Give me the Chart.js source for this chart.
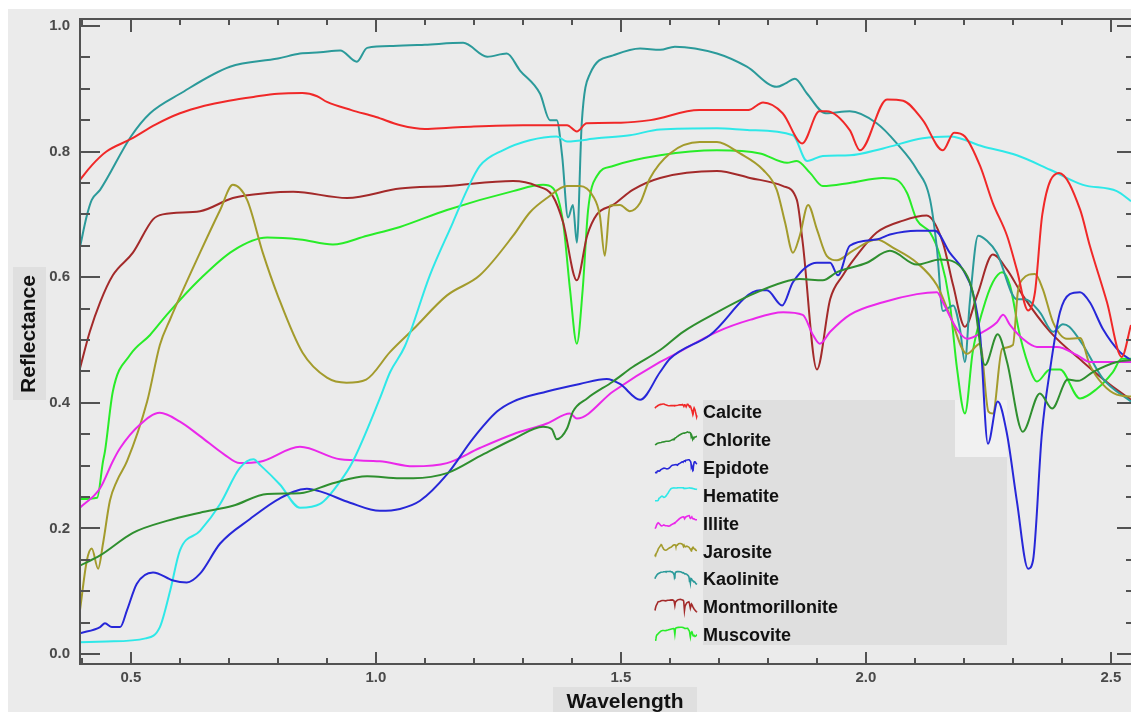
<!DOCTYPE html>
<html>
<head>
<meta charset="utf-8">
<title>Mineral reflectance spectra</title>
<script src="https://cdn.jsdelivr.net/npm/chart.js@4.4.1/dist/chart.umd.min.js"></script>
<style>
  html, body { margin: 0; padding: 0; background: #fff; }
  canvas { display: block; }
</style>
</head>
<body>
<canvas id="spectra" width="1131" height="712"></canvas>
<script>
// [wavelength (um), reflectance]
const calcite = [[0.396,0.755],[0.42,0.778],[0.45,0.80],[0.50,0.82],[0.55,0.843],[0.60,0.861],[0.65,0.873],[0.70,0.881],[0.75,0.887],[0.80,0.892],[0.85,0.893],[0.88,0.888],[0.90,0.879],[0.95,0.866],[1.00,0.855],[1.05,0.842],[1.10,0.836],[1.15,0.838],[1.20,0.840],[1.30,0.842],[1.39,0.842],[1.41,0.832],[1.43,0.845],[1.50,0.846],[1.56,0.850],[1.66,0.866],[1.76,0.866],[1.79,0.878],[1.83,0.861],[1.87,0.813],[1.905,0.864],[1.92,0.864],[1.967,0.834],[1.988,0.802],[2.043,0.883],[2.076,0.881],[2.116,0.85],[2.157,0.802],[2.18,0.83],[2.202,0.824],[2.233,0.777],[2.259,0.718],[2.288,0.666],[2.308,0.612],[2.331,0.547],[2.345,0.576],[2.36,0.70],[2.394,0.766],[2.437,0.708],[2.457,0.650],[2.492,0.560],[2.522,0.473],[2.541,0.524]];
const chlorite = [[0.396,0.141],[0.437,0.157],[0.504,0.193],[0.573,0.212],[0.641,0.225],[0.708,0.236],[0.778,0.255],[0.845,0.256],[0.912,0.272],[0.982,0.283],[1.049,0.28],[1.076,0.28],[1.145,0.288],[1.212,0.315],[1.28,0.342],[1.341,0.362],[1.359,0.358],[1.369,0.342],[1.39,0.359],[1.402,0.386],[1.431,0.407],[1.484,0.434],[1.524,0.457],[1.58,0.484],[1.627,0.513],[1.696,0.544],[1.763,0.571],[1.831,0.592],[1.865,0.597],[1.912,0.595],[1.941,0.608],[2.002,0.623],[2.049,0.642],[2.104,0.62],[2.151,0.628],[2.202,0.608],[2.218,0.576],[2.243,0.46],[2.269,0.509],[2.288,0.465],[2.32,0.354],[2.355,0.415],[2.38,0.391],[2.412,0.437],[2.433,0.435],[2.463,0.449],[2.512,0.465],[2.541,0.468]];
const epidote = [[0.396,0.033],[0.437,0.043],[0.447,0.049],[0.461,0.043],[0.478,0.043],[0.492,0.07],[0.512,0.112],[0.545,0.130],[0.586,0.117],[0.614,0.114],[0.641,0.128],[0.682,0.176],[0.743,0.215],[0.804,0.248],[0.859,0.263],[0.886,0.259],[0.947,0.241],[1.008,0.228],[1.049,0.231],[1.09,0.244],[1.145,0.286],[1.198,0.343],[1.247,0.386],[1.28,0.402],[1.349,0.418],[1.416,0.43],[1.471,0.438],[1.498,0.43],[1.539,0.405],[1.58,0.449],[1.60,0.47],[1.682,0.508],[1.784,0.579],[1.798,0.579],[1.829,0.555],[1.851,0.592],[1.90,0.623],[1.927,0.623],[1.943,0.603],[1.967,0.65],[2.022,0.66],[2.049,0.668],[2.104,0.674],[2.141,0.674],[2.171,0.639],[2.198,0.612],[2.218,0.576],[2.233,0.508],[2.249,0.335],[2.269,0.402],[2.288,0.35],[2.308,0.244],[2.331,0.136],[2.341,0.149],[2.359,0.35],[2.376,0.454],[2.396,0.544],[2.416,0.573],[2.437,0.576],[2.457,0.56],[2.484,0.517],[2.518,0.481],[2.541,0.468]];
const hematite = [[0.396,0.019],[0.45,0.02],[0.53,0.025],[0.559,0.043],[0.58,0.101],[0.60,0.165],[0.641,0.196],[0.682,0.239],[0.722,0.296],[0.75,0.31],[0.765,0.30],[0.804,0.27],[0.845,0.233],[0.886,0.239],[0.927,0.275],[0.953,0.307],[1.008,0.407],[1.029,0.449],[1.059,0.49],[1.11,0.603],[1.157,0.687],[1.186,0.739],[1.212,0.777],[1.259,0.802],[1.314,0.818],[1.369,0.824],[1.39,0.816],[1.451,0.821],[1.518,0.826],[1.58,0.835],[1.696,0.837],[1.763,0.834],[1.851,0.826],[1.88,0.785],[1.912,0.793],[1.967,0.794],[2.035,0.805],[2.116,0.821],[2.171,0.824],[2.239,0.808],[2.308,0.794],[2.376,0.771],[2.443,0.747],[2.512,0.737],[2.541,0.721]];
const illite = [[0.396,0.233],[0.437,0.264],[0.463,0.307],[0.478,0.328],[0.518,0.365],[0.559,0.384],[0.60,0.37],[0.641,0.347],[0.69,0.318],[0.722,0.304],[0.763,0.306],[0.845,0.33],[0.927,0.31],[1.008,0.307],[1.076,0.299],[1.145,0.304],[1.212,0.328],[1.28,0.35],[1.349,0.367],[1.396,0.383],[1.41,0.375],[1.484,0.418],[1.58,0.465],[1.60,0.473],[1.696,0.513],[1.763,0.532],[1.831,0.544],[1.871,0.54],[1.892,0.508],[1.906,0.494],[1.927,0.513],[1.967,0.54],[2.035,0.56],[2.104,0.573],[2.145,0.576],[2.157,0.56],[2.186,0.517],[2.206,0.502],[2.239,0.513],[2.267,0.528],[2.28,0.54],[2.294,0.524],[2.32,0.502],[2.349,0.489],[2.39,0.489],[2.431,0.476],[2.457,0.465],[2.541,0.465]];
const jarosite = [[0.396,0.07],[0.41,0.149],[0.42,0.168],[0.433,0.136],[0.443,0.176],[0.457,0.244],[0.471,0.275],[0.492,0.307],[0.533,0.402],[0.559,0.492],[0.58,0.533],[0.641,0.639],[0.682,0.707],[0.708,0.747],[0.737,0.723],[0.769,0.639],[0.80,0.57],[0.85,0.48],[0.90,0.44],[0.94,0.432],[0.98,0.437],[1.029,0.481],[1.076,0.517],[1.145,0.571],[1.212,0.603],[1.28,0.666],[1.314,0.703],[1.349,0.726],[1.39,0.745],[1.416,0.745],[1.443,0.729],[1.457,0.698],[1.467,0.634],[1.478,0.714],[1.498,0.715],[1.518,0.705],[1.539,0.718],[1.559,0.757],[1.60,0.797],[1.661,0.815],[1.696,0.815],[1.743,0.797],[1.79,0.771],[1.818,0.739],[1.835,0.687],[1.851,0.639],[1.865,0.666],[1.882,0.715],[1.90,0.676],[1.92,0.634],[1.941,0.627],[1.973,0.642],[2.022,0.66],[2.055,0.647],[2.104,0.623],[2.145,0.587],[2.171,0.54],[2.206,0.478],[2.233,0.494],[2.25,0.386],[2.259,0.383],[2.278,0.486],[2.30,0.492],[2.31,0.576],[2.32,0.597],[2.345,0.605],[2.361,0.581],[2.382,0.528],[2.41,0.502],[2.437,0.503],[2.457,0.46],[2.484,0.429],[2.512,0.413],[2.541,0.41]];
const kaolinite = [[0.396,0.648],[0.41,0.698],[0.42,0.723],[0.437,0.739],[0.50,0.824],[0.539,0.861],[0.60,0.892],[0.702,0.935],[0.80,0.948],[0.845,0.956],[0.886,0.958],[0.927,0.961],[0.961,0.943],[0.982,0.965],[1.035,0.968],[1.10,0.970],[1.178,0.973],[1.227,0.951],[1.267,0.956],[1.294,0.929],[1.335,0.892],[1.355,0.85],[1.369,0.85],[1.38,0.793],[1.392,0.695],[1.402,0.715],[1.41,0.655],[1.42,0.845],[1.437,0.924],[1.484,0.953],[1.539,0.964],[1.58,0.962],[1.61,0.967],[1.696,0.956],[1.757,0.935],[1.818,0.903],[1.835,0.908],[1.855,0.916],[1.88,0.892],[1.918,0.861],[1.967,0.864],[2.022,0.845],[2.063,0.813],[2.104,0.771],[2.131,0.723],[2.145,0.645],[2.157,0.546],[2.178,0.555],[2.192,0.517],[2.202,0.465],[2.212,0.56],[2.229,0.666],[2.247,0.658],[2.267,0.639],[2.308,0.565],[2.325,0.565],[2.355,0.544],[2.382,0.513],[2.402,0.525],[2.415,0.521],[2.443,0.492],[2.484,0.438],[2.541,0.402]];
const montmorillonite = [[0.396,0.455],[0.416,0.513],[0.437,0.560],[0.463,0.603],[0.504,0.639],[0.545,0.692],[0.565,0.700],[0.641,0.705],[0.708,0.726],[0.778,0.734],[0.831,0.736],[0.941,0.726],[1.049,0.741],[1.145,0.745],[1.28,0.753],[1.329,0.745],[1.361,0.729],[1.382,0.687],[1.41,0.595],[1.431,0.666],[1.451,0.70],[1.484,0.715],[1.524,0.739],[1.58,0.758],[1.696,0.769],[1.763,0.758],[1.831,0.745],[1.859,0.723],[1.871,0.655],[1.90,0.453],[1.927,0.565],[1.953,0.603],[1.982,0.635],[2.022,0.671],[2.076,0.69],[2.124,0.698],[2.157,0.655],[2.178,0.587],[2.202,0.521],[2.227,0.571],[2.259,0.636],[2.288,0.612],[2.32,0.571],[2.376,0.513],[2.443,0.465],[2.498,0.429],[2.541,0.405]];
const muscovite = [[0.396,0.247],[0.431,0.249],[0.443,0.307],[0.447,0.323],[0.463,0.418],[0.498,0.476],[0.539,0.508],[0.573,0.54],[0.641,0.597],[0.708,0.642],[0.778,0.663],[0.845,0.66],[0.912,0.652],[0.982,0.666],[1.049,0.68],[1.145,0.707],[1.28,0.737],[1.341,0.747],[1.361,0.742],[1.382,0.687],[1.396,0.581],[1.41,0.494],[1.422,0.581],[1.433,0.707],[1.451,0.761],[1.484,0.777],[1.58,0.794],[1.696,0.802],[1.784,0.797],[1.839,0.782],[1.859,0.785],[1.886,0.766],[1.912,0.745],[1.967,0.75],[2.035,0.758],[2.063,0.755],[2.084,0.734],[2.104,0.691],[2.131,0.671],[2.151,0.634],[2.171,0.56],[2.186,0.454],[2.202,0.383],[2.218,0.481],[2.239,0.549],[2.259,0.592],[2.278,0.608],[2.294,0.587],[2.314,0.508],[2.339,0.445],[2.349,0.434],[2.376,0.453],[2.396,0.453],[2.437,0.407],[2.471,0.422],[2.504,0.449],[2.522,0.47],[2.541,0.47]];

const names = ['Calcite', 'Chlorite', 'Epidote', 'Hematite', 'Illite', 'Jarosite', 'Kaolinite', 'Montmorillonite', 'Muscovite'];
const series = [calcite, chlorite, epidote, hematite, illite, jarosite, kaolinite, montmorillonite, muscovite];
const colors = ['#f02828', '#2f8f2f', '#2727d8', '#2ee8e8', '#ea28ea', '#a39b2c', '#2b9a9a', '#a32a2a', '#28ec28'];

const xTicks = [0.5, 1.0, 1.5, 2.0, 2.5];
const yTicks = [0.0, 0.2, 0.4, 0.6, 0.8, 1.0];
const xMin = 0.396, xMax = 2.541;
const yMin = -0.0158, yMax = 1.011;

const font = '"Liberation Sans", Arial, sans-serif';

// background, legend panel, inward ticks, titles
const frame = {
    id: 'frame',
    beforeDraw(chart) {
        const c = chart.ctx;
        c.save();
        c.fillStyle = '#ffffff';
        c.fillRect(0, 0, chart.width, chart.height);
        c.fillStyle = '#ebebeb';
        c.fillRect(8, 9, chart.width - 8, chart.height - 9);
        c.fillStyle = '#dfdfdf';
        c.fillRect(13, 267, 33, 133);
        c.fillRect(553, 687, 144, 25);
        c.fillRect(703, 400, 252, 245);
        c.fillRect(955, 457, 52, 188);
        c.fillStyle = '#f1f1f1';
        c.fillRect(955, 400, 52, 57);
        c.restore();
    },
    afterDatasetsDraw(chart) {
        const { ctx: c, chartArea: a, scales: { x, y } } = chart;
        c.save();
        c.strokeStyle = '#525252';
        c.lineWidth = 2;
        c.beginPath();
        // left, top and bottom frame lines; the right one sits past the edge
        c.moveTo(a.right, a.top); c.lineTo(a.left, a.top);
        c.lineTo(a.left, a.bottom); c.lineTo(a.right, a.bottom);
        for (let i = 0; i <= 20; i++) {
            const py = Math.round(y.getPixelForValue(i * 0.05));
            const major = i % 4 === 0;
            c.moveTo(a.left, py); c.lineTo(a.left + (major ? 20 : 10), py);
            c.moveTo(a.right, py); c.lineTo(a.right - (major ? 14 : 5), py);
        }
        for (let i = 4; i <= 25; i++) {
            const px = Math.round(x.getPixelForValue(i / 10));
            const major = i % 5 === 0;
            c.moveTo(px, a.bottom); c.lineTo(px, a.bottom - (major ? 12 : 6));
            c.moveTo(px, a.top); c.lineTo(px, a.top + (major ? 13 : 6));
        }
        c.stroke();
        c.restore();
    },
    afterDraw(chart) {
        const c = chart.ctx;
        c.save();
        // legend: a small copy of each spectrum next to its name
        names.forEach((name, i) => {
            const base = 418 + i * 27.9;
            const pts = series[i];
            const ys = pts.map(p => p[1]);
            const lo = Math.min(...ys), hi = Math.max(...ys);
            c.strokeStyle = colors[i];
            c.lineWidth = 1.6;
            c.beginPath();
            pts.forEach((p, k) => {
                const px = 655 + (p[0] - xMin) / (xMax - xMin) * 42;
                const py = base - 1 - (p[1] - lo) / (hi - lo) * 13;
                if (k) c.lineTo(px, py); else c.moveTo(px, py);
            });
            c.stroke();
            c.fillStyle = '#111';
            c.font = 'bold 18px ' + font;
            c.textAlign = 'left';
            c.textBaseline = 'alphabetic';
            c.fillText(name, 703, base);
        });
        // axis titles
        c.fillStyle = '#111';
        c.font = 'bold 21px ' + font;
        c.textAlign = 'center';
        c.fillText('Wavelength', 625, 708);
        c.translate(35, 334);
        c.rotate(-Math.PI / 2);
        c.fillText('Reflectance', 0, 0);
        c.restore();
    }
};

const chart = new Chart(document.getElementById('spectra'), {
    type: 'line',
    data: {
        datasets: series.map((pts, i) => ({
            label: names[i],
            data: pts.map(p => ({ x: p[0], y: p[1] })),
            borderColor: colors[i],
            borderWidth: 2,
            pointRadius: 0,
            cubicInterpolationMode: 'monotone',
            fill: false
        }))
    },
    options: {
        responsive: false,
        animation: false,
        devicePixelRatio: 1,
        layout: { padding: { top: 15, right: 0, left: 0, bottom: 0 } },
        plugins: { legend: { display: false }, tooltip: { enabled: false } },
        scales: {
            x: {
                type: 'linear',
                min: xMin,
                max: xMax,
                grid: { display: false, drawTicks: false },
                border: { display: false },
                afterBuildTicks: s => { s.ticks = xTicks.map(v => ({ value: v })); },
                afterFit: s => { s.height = 48; },
                ticks: {
                    padding: 5,
                    color: '#4a4a4a',
                    font: { family: font, size: 15, weight: 'bold' },
                    callback: v => v.toFixed(1)
                }
            },
            y: {
                min: yMin,
                max: yMax,
                grid: { display: false, drawTicks: false },
                border: { display: false },
                afterBuildTicks: s => { s.ticks = yTicks.map(v => ({ value: v })); },
                afterFit: s => { s.width = 80; },
                ticks: {
                    padding: 10,
                    color: '#4a4a4a',
                    font: { family: font, size: 15, weight: 'bold' },
                    callback: v => v.toFixed(1)
                }
            }
        }
    },
    plugins: [frame]
});
</script>
</body>
</html>
